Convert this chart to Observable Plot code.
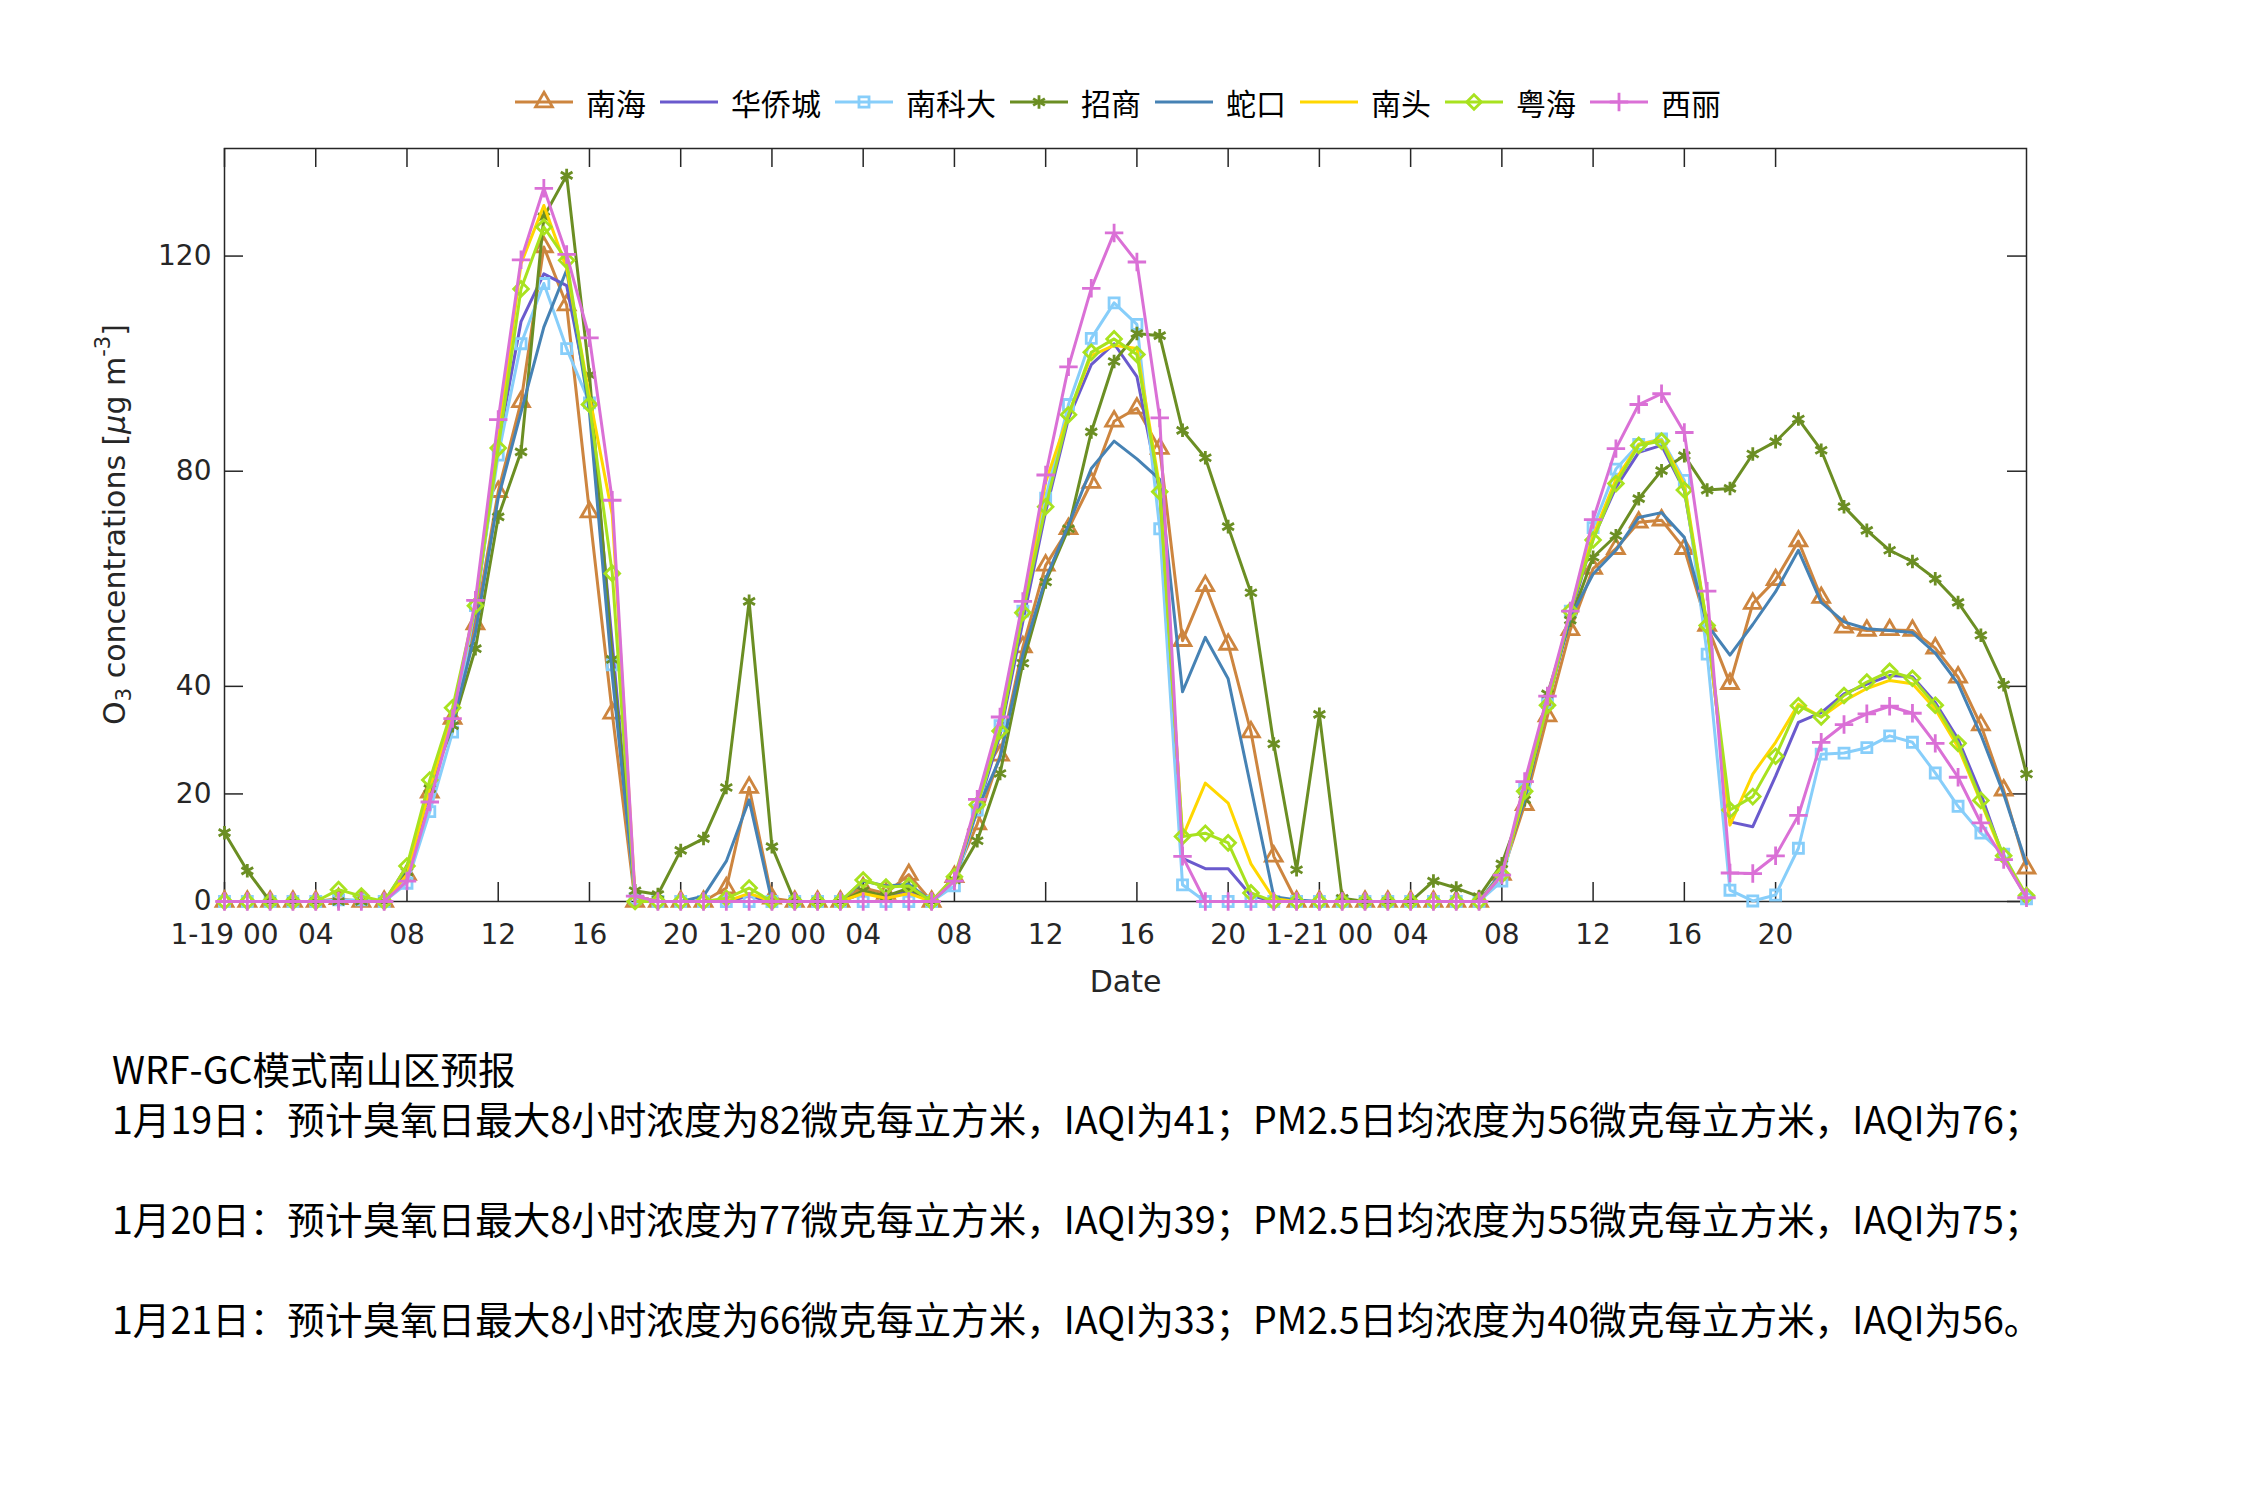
<!DOCTYPE html>
<html><head><meta charset="utf-8">
<script src="https://cdn.jsdelivr.net/npm/d3@7"></script>
<script src="https://cdn.jsdelivr.net/npm/@observablehq/plot@0.6"></script>
<style>
body{margin:0;background:#fff;width:2250px;height:1500px;overflow:hidden;}
#legend{height:130px;box-sizing:border-box;padding-top:74px;display:flex;justify-content:center;align-items:center;font-family:"Noto Sans CJK SC";font-size:30px;color:#000}
.item{display:flex;align-items:center;}
.item svg{margin-right:13px;overflow:visible}
.item span{margin-right:14px;line-height:30px}
#chart svg{display:block}
#caption{margin-left:112px;padding-top:32px;font-family:"Noto Sans CJK SC";font-size:37.6px;line-height:50px;color:#000;white-space:pre}
</style></head><body>
<div id="legend"></div><div id="chart"></div><div id="caption"></div>
<script>
// ---- data ----
const hours = d3.range(80); // hourly steps from 1-19 00 to 1-22 07
const xTicks = [0,4,8,12,16,20,24,28,32,36,40,44,48,52,56,60,64,68];
const yTicks = [0,20,40,80,120];
const seriesNames = ["南海","华侨城","南科大","招商","蛇口","南头","粤海","西丽"];

const nanhai = [0,0,0,0,0,0.5,0,0,5,20.3, 34,51.6,76.2,92.9,121.7,110.9,72.4,35,0,0, 0,0,2.5,21.2,0.6,0,0,0,2.5,1.5, 5,0,4.6,14.4,27.2,47.3,62.5,69.3,77.9,89.3, 91.7,84.2,48.5,58.7,47.8,31.5,8.4,0,0,0, 0,0,0,0,0,0,5,18,34.5,50.5, 61.9,65.6,70.5,70.9,65.6,51.3,40.5,55.4,59.8,67, 56.5,51,50.4,50.5,50.4,47.1,41.7,32.8,20.7,6.2];
const huaqiaocheng = [0,0,0,0,0,0,0,0,5,20, 34,54,85,107.8,116.7,114.5,93,48,1,0, 0,0,0,1,0,0,0,0,1.5,1, 2,0,4,17,31,52,72.5,89.8,99.8,103.7, 97.6,76,8,6.1,6.1,1.1,0,0,0,0, 0,0,0,0,0,0,5,20,37,53, 67.5,77,83.5,84.8,76.4,51,14.8,13.9,23.3,33.3, 35.1,38.6,40.4,42,41.8,37,30.2,20,8,0.8];
const nankeda = [0,0,0,0,0,0.3,0.3,0,3.4,16.7, 31.5,55,83,103.7,114.9,102.8,92.7,44,0.5,0, 0,0,0,0,0,0,0,0,0,0, 0,0,2.9,17,32.7,54,75,92.4,104.7,111.3, 107.3,69.3,3.1,0,0,0,0,0,0,0, 0,0,0,0,0,0,3.8,21,37,54, 69.5,80.4,85,86,78.3,46,2.1,0.1,1.2,9.9, 27.4,27.6,28.6,30.8,29.6,23.9,17.7,12.7,8.8,0.5];
const zhaoshang = [12.8,5.7,0,0,0,0,0,0,5.5,21, 32.7,47,71.5,83.6,127.3,135,97.9,45,2,1.3, 9.5,11.7,21.2,55.8,10.2,0,0,0,2,1, 2.5,0,4,11.3,23.8,44.3,59.4,69.3,87.3,100.4, 105.6,105.2,87.6,82.5,69.7,57.4,29.3,5.9,34.8,0.6, 0,0,0,3.8,2.5,0.9,7,18.9,38.6,52.3, 64,68,74.9,80.1,82.9,76.5,76.8,83.2,85.5,89.7, 83.9,73.4,69,65.3,63.2,60,55.6,49.5,40.3,23.7];
const shekou = [0,0,0,0,0,0,0,0,6.4,21, 33,50,75,91,106.8,117.4,91,42,1,0, 0,1,7.5,18.9,0,0,0,0,3.8,2.9, 3.2,0,4,17,26.7,46,60,70,80.5,85.6, 82.3,78.5,39,49.1,41.4,21.2,0.9,0.3,0,0, 0,0,0,0,0,0,5.5,19,37,52.8, 60.9,65.3,71.4,72.3,67.7,51.5,45.8,51.5,57.6,65.3, 55.6,52,50.7,50.4,50,46.2,40.5,31,20,7];
const nantou = [0,0,0,0,0,0,0,0,5,21, 35,55,86,118.6,129.4,117.7,94,71.9,1,0, 0,0,0,1.5,0,0,0,0,1.5,0.6, 1.5,0,4,18,32,54,78,90.5,101.5,103.4, 102.8,77,12,22,18.3,7,0.5,0,0,0, 0,0,0,0,0,0,5,20,37,54, 68,78.5,85,85.8,77.5,51.3,14.2,23.7,29.6,36.7, 34.3,37.3,39.6,41.1,40.5,35.8,28.7,18.5,8,1];
const yuehai = [0,0,0,0,0,2.2,1,0,6.6,22.6, 36,55,84.3,113.9,125.4,119.2,92.4,61,0,0, 0,0,0.6,2.5,0,0,0,0,4,2.7, 2.9,0,4.6,18,31.7,53.7,73.4,90.5,102.1,104.6, 101.7,76.2,12.1,12.7,10.9,1.6,0,0,0,0, 0,0,0,0,0,0,5,20.5,36.5,54, 67.2,77.7,84.8,85.6,76.5,51.3,17,19.5,27,36.4, 34.3,38.3,40.8,42.8,41.5,36.5,29.4,18.8,8.5,1.1];
const xili = [0,0,0,0,0,0,0,0,3.8,18.5, 34,56,89.6,119.3,132.6,120.3,104.8,74.6,1,0, 0,0,0,0,0,0,0,0,0,0, 0,0,3.8,19,34.3,55.8,79.3,99.4,114,124.3, 118.9,89.9,8.4,0,0,0,0,0,0,0, 0,0,0,0,0,0,4.9,22.3,38.2,54, 71,84.2,92.4,94.4,87.2,57.7,5.3,5.2,8.5,16, 29.6,32.9,34.9,36.3,35,29.4,23.1,14.6,7.8,0.7];

const captionLines = [
  "WRF-GC模式南山区预报",
  "1月19日：预计臭氧日最大8小时浓度为82微克每立方米，IAQI为41；PM2.5日均浓度为56微克每立方米，IAQI为76；",
  "",
  "1月20日：预计臭氧日最大8小时浓度为77微克每立方米，IAQI为39；PM2.5日均浓度为55微克每立方米，IAQI为75；",
  "",
  "1月21日：预计臭氧日最大8小时浓度为66微克每立方米，IAQI为33；PM2.5日均浓度为40微克每立方米，IAQI为56。"
];

// ---- styles ----
const valuesList = [nanhai, huaqiaocheng, nankeda, zhaoshang, shekou, nantou, yuehai, xili];
const styles = [
  {color:"#CD853F", symbol:"triangle2", r:8},
  {color:"#6A5ACD", symbol:null},
  {color:"#87CEFA", symbol:"square2", r:6.4},
  {color:"#6B8E23", symbol:"asterisk", r:6.4},
  {color:"#4682B4", symbol:null},
  {color:"#FFD700", symbol:null},
  {color:"#A8E21F", symbol:"diamond2", r:6.6},
  {color:"#DA70D6", symbol:"plus", r:6}
];
const d3Sym = {triangle2:d3.symbolTriangle2, square2:d3.symbolSquare2, asterisk:d3.symbolAsterisk, diamond2:d3.symbolDiamond2, plus:d3.symbolPlus};

const W = 2250, H = 881, mL = 224, mR = 224, mT = 18, mB = 110;
const innerW = W - mL - mR, innerH = H - mT - mB;
const tickLen = 19, axisColor = "#262626";
const lineW = 3, markW = 2.8;

const xFmt = h => h % 24 === 0 ? `1-${19 + h/24} 00` : String(h % 24).padStart(2, "0");

const marks = [
  Plot.frame({stroke: axisColor, strokeWidth: 1.5}),
  Plot.tickX(xTicks, {x: d => d, insetTop: innerH - tickLen, stroke: axisColor, strokeWidth: 1.5}),
  Plot.tickX(xTicks, {x: d => d, insetBottom: innerH - tickLen, stroke: axisColor, strokeWidth: 1.5}),
  Plot.tickY(yTicks, {y: d => d, insetRight: innerW - tickLen, stroke: axisColor, strokeWidth: 1.5}),
  Plot.tickY(yTicks, {y: d => d, insetLeft: innerW - tickLen, stroke: axisColor, strokeWidth: 1.5})
];
valuesList.forEach((vals, si) => {
  const st = styles[si];
  const data = vals.map((v, i) => ({hour: hours[i], value: v, name: seriesNames[si]}));
  marks.push(Plot.line(data, {x: "hour", y: "value", stroke: st.color, strokeWidth: lineW}));
  if (st.symbol) marks.push(Plot.dot(data, {x: "hour", y: "value", symbol: st.symbol, r: st.r, stroke: st.color, fill: "none", strokeWidth: markW}));
});
marks.push(
  Plot.axisX(xTicks, {tickSize: 0, tickPadding: 23, tickFormat: xFmt, label: null, fontSize: 28, fill: axisColor}),
  Plot.axisY(yTicks, {tickSize: 0, tickPadding: 13, label: null, fontSize: 28, fill: axisColor}),
  Plot.text(["Date"], {frameAnchor: "bottom", dy: 81, text: d => d, fontSize: 30, fill: axisColor, lineAnchor: "middle"})
);

const chart = Plot.plot({
  width: W, height: H, marginLeft: mL, marginRight: mR, marginTop: mT, marginBottom: mB,
  x: {domain: [0, 79]}, y: {domain: [0, 140]},
  style: {fontFamily: "DejaVu Sans", fontSize: "28px", background: "white", color: axisColor},
  marks
});
document.getElementById("chart").appendChild(chart);

// y-axis label with sub/superscripts
const svg = d3.select(chart);
const yl = svg.append("text")
  .attr("transform", `translate(116, ${mT + innerH/2}) rotate(-90)`)
  .attr("text-anchor", "middle").attr("dominant-baseline", "middle")
  .attr("font-family", "DejaVu Sans").attr("font-size", 30).attr("fill", axisColor);
yl.append("tspan").text("O");
yl.append("tspan").attr("dy", 9).attr("font-size", 21).text("3");
yl.append("tspan").attr("dy", -9).text(" concentrations [");
yl.append("tspan").attr("font-style", "italic").text("μ");
yl.append("tspan").text("g m");
yl.append("tspan").attr("dy", -12).attr("font-size", 21).text("-3");
yl.append("tspan").attr("dy", 12).text("]");

// legend
const legend = d3.select("#legend");
seriesNames.forEach((name, si) => {
  const st = styles[si];
  const item = legend.append("div").attr("class", "item");
  const s = item.append("svg").attr("width", 58).attr("height", 30);
  s.append("line").attr("x1", 0).attr("x2", 58).attr("y1", 15).attr("y2", 15).attr("stroke", st.color).attr("stroke-width", lineW);
  if (st.symbol) {
    s.append("path").attr("transform", "translate(29,15)")
      .attr("d", d3.symbol(d3Sym[st.symbol], Math.PI * st.r * st.r)())
      .attr("fill", "none").attr("stroke", st.color).attr("stroke-width", markW);
  }
  item.append("span").text(name);
});

// caption
const cap = d3.select("#caption");
captionLines.forEach(t => cap.append("div").style("height", "50px").text(t));
</script>
</body></html>
